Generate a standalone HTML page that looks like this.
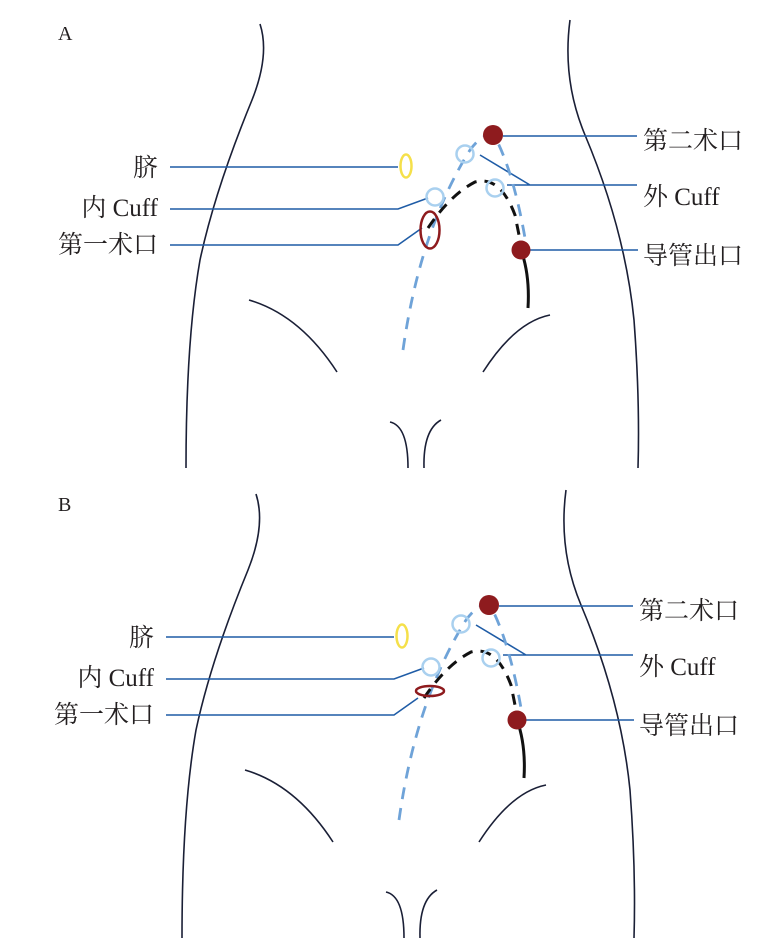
<!DOCTYPE html>
<html><head><meta charset="utf-8"><style>
html,body{margin:0;padding:0;background:#fff;}
svg{display:block;}
text{font-family:"Liberation Serif","Noto Serif CJK SC",serif;font-size:25px;fill:#231f20;}
</style></head><body>
<svg width="767" height="945" viewBox="0 0 767 945" xmlns="http://www.w3.org/2000/svg">
<defs>
<g id="body" fill="none" stroke="#1a1f36" stroke-width="1.6">
<path d="M260,24 Q270,55 252,100 Q215,190 200,260 Q186,340 186,468"/>
<path d="M570,20 Q562,80 585,135 Q625,230 634,320 Q640,400 638,468"/>
<path d="M249,300 Q300,315 337,372"/>
<path d="M550,315 Q515,322 483,372"/>
<path d="M390,422 Q408,426 408,468"/>
<path d="M441,420 Q423,430 424,468"/>
</g>
<g id="lines" fill="none" stroke="#1f5ca6" stroke-width="1.6">
<path d="M170,167 H398"/>
<path d="M170,209 H398 L428,198"/>
<path d="M170,245 H398 L422,228"/>
<path d="M503,136 H637"/>
<path d="M480,155 L530,185 M507,185 H637"/>
<path d="M530,250 H638"/>
</g>
<g id="common">
<path d="M403,350 Q420,230 470,150 Q485,130 495,137 Q515,175 527,250" fill="none" stroke="#6fa3d8" stroke-width="2.8" stroke-dasharray="12,9"/>
<path d="M428,228 Q450,195 475,182 Q500,175 515,215 L522,250" fill="none" stroke="#111" stroke-width="3" stroke-dasharray="11,8"/>
<path d="M521,250 Q530,275 528,308" fill="none" stroke="#111" stroke-width="3"/>
<circle cx="465" cy="154" r="8.5" fill="none" stroke="#a9d0ef" stroke-width="2.5"/>
<circle cx="435" cy="197" r="8.5" fill="none" stroke="#a9d0ef" stroke-width="2.5"/>
<circle cx="495" cy="188" r="8.5" fill="none" stroke="#a9d0ef" stroke-width="2.5"/>
<ellipse cx="406" cy="166" rx="5.5" ry="11.5" fill="none" stroke="#f5e04a" stroke-width="2.5"/>
<circle cx="493" cy="135" r="10" fill="#8e1b1e"/>
<circle cx="521" cy="250" r="9.5" fill="#8e1b1e"/>
<g>
<text x="158" y="176" text-anchor="end">脐</text>
<text x="158" y="216" text-anchor="end">内 Cuff</text>
<text x="158" y="253" text-anchor="end">第一术口</text>
<text x="643" y="149">第二术口</text>
<text x="643" y="205">外 Cuff</text>
<text x="643" y="264">导管出口</text>
</g>
</g>
</defs>
<text x="58" y="40" style="font-size:20px">A</text>
<use href="#body"/>
<use href="#lines"/>
<use href="#common"/>
<ellipse cx="430" cy="230" rx="9.5" ry="18.5" fill="none" stroke="#8e1b1e" stroke-width="2.5"/>

<text x="58" y="511" style="font-size:20px">B</text>
<g transform="translate(-4,470)">
<use href="#body"/>
<use href="#lines"/>
<use href="#common"/>
<ellipse cx="434" cy="221" rx="14" ry="5" fill="none" stroke="#8e1b1e" stroke-width="2.5"/>
</g>
</svg>
</body></html>
